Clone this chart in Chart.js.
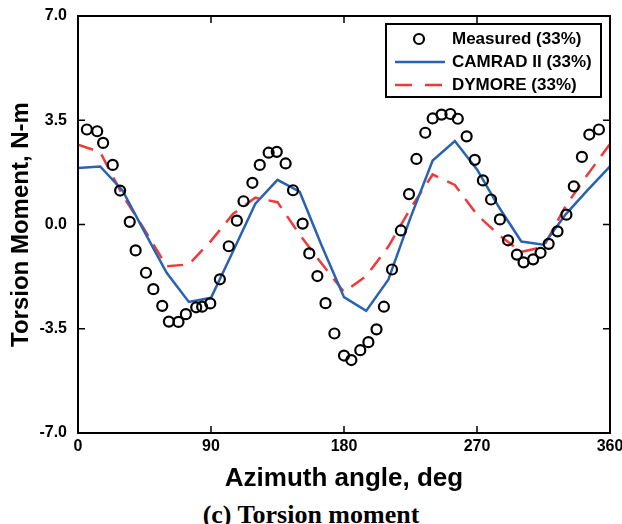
<!DOCTYPE html>
<html>
<head>
<meta charset="utf-8">
<script src="https://cdn.jsdelivr.net/npm/chart.js@4"></script>
<style>
  body { margin: 0; background: #fff; }
  #wrap { position: relative; width: 622px; height: 500px; }
  #caption { position: absolute; left: 0; top: 500px; width: 622px; height: 24px; line-height: 24px;
    text-align: center; font: bold 26px "Liberation Serif", "Times New Roman", serif; color: #000; }
</style>
</head>
<body>
<div id="wrap"><canvas id="chart"></canvas></div>
<div id="caption">(c) Torsion moment</div>
<script>
// measured points (azimuth deg, torsion N-m)
const measuredAngle = [6, 13, 17, 23.5, 28.5, 35, 39, 46, 51, 57, 61.5, 68, 73, 80, 84, 89.5, 96, 102, 107.5, 112, 118, 123, 129, 134.5, 140.5, 145.5, 152, 156.5, 162, 167.5, 173.5, 180, 185, 191, 196.5, 202, 207, 212.5, 218.5, 224, 229, 235, 240, 246, 252, 257, 263, 268.5, 274, 279.5, 285.5, 291, 297, 301.5, 308, 313, 318.5, 324.5, 330.5, 335.5, 341, 346, 352.5];
const measuredValue = [3.19, 3.13, 2.74, 2.0, 1.14, 0.09, -0.87, -1.62, -2.17, -2.73, -3.26, -3.27, -3.01, -2.78, -2.76, -2.65, -1.84, -0.73, 0.13, 0.78, 1.4, 2.0, 2.41, 2.44, 2.05, 1.15, 0.03, -0.97, -1.73, -2.64, -3.66, -4.4, -4.55, -4.22, -3.95, -3.52, -2.76, -1.51, -0.2, 1.02, 2.2, 3.08, 3.56, 3.69, 3.71, 3.55, 2.96, 2.17, 1.48, 0.84, 0.17, -0.53, -1.01, -1.27, -1.17, -0.95, -0.65, -0.23, 0.33, 1.28, 2.27, 3.02, 3.19];

// predictions every 15 deg
const modelAngle = [0, 15, 30, 45, 60, 75, 90, 105, 120, 135, 150, 165, 180, 195, 210, 225, 240, 255, 270, 285, 300, 315, 330, 345, 360];
const camrad = [1.9, 1.95, 1.15, -0.25, -1.62, -2.6, -2.46, -0.89, 0.7, 1.5, 1.1, -0.72, -2.44, -2.9, -1.85, 0.23, 2.15, 2.8, 1.85, 0.57, -0.57, -0.68, 0.34, 1.16, 1.95];
const dymore = [2.68, 2.43, 1.0, -0.17, -1.4, -1.34, -0.55, 0.36, 0.9, 0.75, -0.34, -1.32, -2.27, -1.73, -0.74, 0.54, 1.68, 1.33, 0.33, -0.36, -0.92, -0.75, 0.62, 1.69, 2.7];

const xTicks = [0, 90, 180, 270, 360];
const yTicks = [-7, -3.5, 0, 3.5, 7];

const BLUE = '#2a62b3';
const RED = '#ee3a3a';
const FONT = '"Liberation Sans", Arial, sans-serif';

const toXY = (xs, ys) => xs.map((x, i) => ({ x: x, y: ys[i] }));

// frame + inward ticks on all four sides, and the boxed legend
const framePlugin = {
  id: 'frame',
  afterDraw(chart) {
    const { ctx, chartArea: a, scales } = chart;
    ctx.save();
    ctx.strokeStyle = '#000';
    ctx.lineWidth = 2;
    ctx.strokeRect(a.left, a.top, a.right - a.left, a.bottom - a.top);
    ctx.lineWidth = 1.5;
    ctx.beginPath();
    xTicks.slice(1, -1).forEach(v => {
      const px = scales.x.getPixelForValue(v);
      ctx.moveTo(px, a.bottom); ctx.lineTo(px, a.bottom - 7);
      ctx.moveTo(px, a.top); ctx.lineTo(px, a.top + 7);
    });
    yTicks.slice(1, -1).forEach(v => {
      const py = scales.y.getPixelForValue(v);
      ctx.moveTo(a.left, py); ctx.lineTo(a.left + 7, py);
      ctx.moveTo(a.right, py); ctx.lineTo(a.right - 7, py);
    });
    ctx.stroke();

    const lx = 386, ly = 24, lw = 215, lh = 73;
    ctx.fillStyle = '#fff';
    ctx.fillRect(lx, ly, lw, lh);
    ctx.lineWidth = 2;
    ctx.strokeRect(lx, ly, lw, lh);
    const rows = [39, 62, 85];
    ctx.beginPath();
    ctx.lineWidth = 2.2;
    ctx.arc(419, rows[0], 5, 0, Math.PI * 2);
    ctx.stroke();
    ctx.beginPath();
    ctx.strokeStyle = BLUE; ctx.lineWidth = 2.5;
    ctx.moveTo(395, rows[1]); ctx.lineTo(445, rows[1]);
    ctx.stroke();
    ctx.beginPath();
    ctx.strokeStyle = RED; ctx.setLineDash([17, 13]);
    ctx.moveTo(395, rows[2]); ctx.lineTo(445, rows[2]);
    ctx.stroke();
    ctx.setLineDash([]);
    ctx.fillStyle = '#000';
    ctx.font = 'bold 17px ' + FONT;
    ctx.textBaseline = 'middle';
    ctx.fillText('Measured (33%)', 452, rows[0]);
    ctx.fillText('CAMRAD II (33%)', 452, rows[1]);
    ctx.fillText('DYMORE (33%)', 452, rows[2]);
    ctx.restore();
  }
};

new Chart(document.getElementById('chart'), {
  type: 'scatter',
  data: {
    datasets: [
      {
        label: 'Measured (33%)',
        data: toXY(measuredAngle, measuredValue),
        showLine: false,
        pointRadius: 5,
        pointBorderWidth: 2.2,
        pointBorderColor: '#000',
        pointBackgroundColor: 'rgba(0,0,0,0)',
        order: 0
      },
      {
        label: 'CAMRAD II (33%)',
        data: toXY(modelAngle, camrad),
        showLine: true,
        borderColor: BLUE,
        borderWidth: 2.5,
        pointRadius: 0,
        tension: 0,
        order: 1
      },
      {
        label: 'DYMORE (33%)',
        data: toXY(modelAngle, dymore),
        showLine: true,
        borderColor: RED,
        borderWidth: 2.5,
        borderDash: [16, 10],
        pointRadius: 0,
        tension: 0,
        order: 2
      }
    ]
  },
  options: {
    responsive: true,
    maintainAspectRatio: false,
    animation: false,
    layout: { padding: { left: 0, top: 16, right: 12, bottom: 0 } },
    plugins: { legend: { display: false }, tooltip: { enabled: false } },
    scales: {
      x: {
        type: 'linear', min: 0, max: 360,
        afterBuildTicks: s => { s.ticks = xTicks.map(v => ({ value: v })); },
        afterFit: s => { s.height = 67; s.paddingLeft = 0; s.paddingRight = 0; },
        grid: { display: false, drawTicks: false },
        border: { display: false },
        ticks: { color: '#000', padding: 4, maxRotation: 0, font: { family: FONT, size: 16, weight: 'bold' } },
        title: { display: true, text: 'Azimuth angle, deg', color: '#000', padding: { top: 0, bottom: 6 },
          font: { family: FONT, size: 26, weight: 'bold' } }
      },
      y: {
        type: 'linear', min: -7, max: 7,
        afterBuildTicks: s => { s.ticks = yTicks.map(v => ({ value: v })); },
        afterFit: s => { s.width = 78; s.paddingTop = 0; s.paddingBottom = 0; },
        grid: { display: false, drawTicks: false },
        border: { display: false },
        ticks: { color: '#000', padding: 11, callback: v => v.toFixed(1),
          font: { family: FONT, size: 16, weight: 'bold' } },
        title: { display: true, text: 'Torsion Moment, N-m', color: '#000', padding: { top: 7, bottom: 0 },
          font: { family: FONT, size: 24, weight: 'bold' } }
      }
    }
  },
  plugins: [framePlugin]
});
</script>
</body>
</html>
